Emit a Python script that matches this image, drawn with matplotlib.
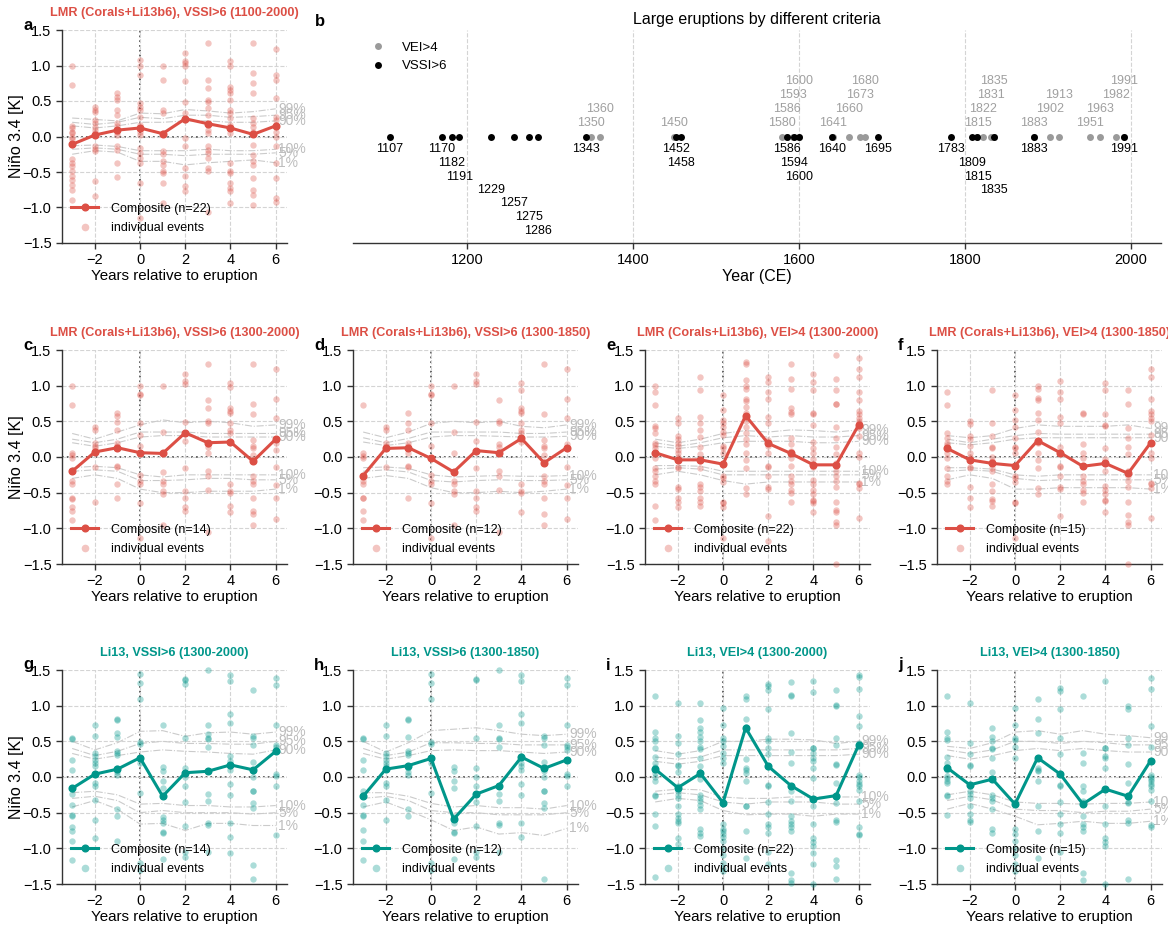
import matplotlib
matplotlib.use('Agg')
import matplotlib.pyplot as plt
from matplotlib.lines import Line2D

plt.rcParams['font.family'] = ['Liberation Sans', 'DejaVu Sans']
plt.rcParams['axes.unicode_minus'] = True

# ---------------- data ----------------
lag_years = [-3, -2, -1, 0, 1, 2, 3, 4, 5, 6]
pct_labels = ['99%', '95%', '90%', '10%', '5%', '1%']

# composites
comp_a = [-0.11, 0.02, 0.09, 0.12, 0.04, 0.25, 0.18, 0.12, 0.03, 0.15]
comp_c = [-0.20, 0.07, 0.13, 0.06, 0.05, 0.34, 0.20, 0.21, -0.06, 0.25]
comp_d = [-0.26, 0.12, 0.13, -0.02, -0.21, 0.09, 0.06, 0.26, -0.08, 0.13]
comp_e = [0.06, -0.04, -0.04, -0.10, 0.58, 0.19, 0.05, -0.11, -0.11, 0.45]
comp_f = [0.12, -0.04, -0.09, -0.12, 0.23, 0.06, -0.13, -0.09, -0.23, 0.20]
comp_g = [-0.16, 0.04, 0.11, 0.27, -0.27, 0.06, 0.08, 0.17, 0.10, 0.36]
comp_h = [-0.27, 0.11, 0.16, 0.26, -0.59, -0.24, -0.12, 0.28, 0.12, 0.24]
comp_i = [0.11, -0.15, 0.05, -0.36, 0.69, 0.15, -0.12, -0.31, -0.26, 0.45]
comp_j = [0.13, -0.11, -0.03, -0.38, 0.27, 0.04, -0.38, -0.17, -0.27, 0.23]

# percentile bands (99, 95, 90, 10, 5, 1)
pct_a = [[0.26, 0.24, 0.22, 0.33, 0.32, 0.38, 0.36, 0.33, 0.35, 0.39],
         [0.20, 0.17, 0.20, 0.27, 0.25, 0.30, 0.30, 0.27, 0.28, 0.30],
         [0.15, 0.12, 0.15, 0.20, 0.20, 0.22, 0.22, 0.20, 0.20, 0.22],
         [-0.13, -0.12, -0.14, -0.20, -0.20, -0.20, -0.18, -0.20, -0.20, -0.18],
         [-0.18, -0.16, -0.18, -0.25, -0.25, -0.27, -0.25, -0.25, -0.25, -0.23],
         [-0.25, -0.20, -0.22, -0.35, -0.35, -0.40, -0.37, -0.35, -0.33, -0.37]]
pct_c = [[0.33, 0.25, 0.35, 0.45, 0.52, 0.48, 0.50, 0.48, 0.43, 0.45],
         [0.25, 0.20, 0.25, 0.35, 0.35, 0.35, 0.33, 0.33, 0.33, 0.33],
         [0.20, 0.15, 0.20, 0.28, 0.30, 0.30, 0.28, 0.28, 0.28, 0.28],
         [-0.15, -0.13, -0.15, -0.25, -0.28, -0.25, -0.25, -0.25, -0.25, -0.25],
         [-0.20, -0.18, -0.20, -0.33, -0.33, -0.32, -0.30, -0.30, -0.32, -0.32],
         [-0.30, -0.25, -0.30, -0.45, -0.50, -0.50, -0.48, -0.48, -0.48, -0.45]]
pct_d = [[0.35, 0.27, 0.35, 0.47, 0.50, 0.48, 0.50, 0.43, 0.41, 0.45],
         [0.27, 0.20, 0.26, 0.35, 0.35, 0.35, 0.35, 0.33, 0.33, 0.35],
         [0.21, 0.16, 0.20, 0.28, 0.30, 0.30, 0.29, 0.28, 0.28, 0.29],
         [-0.15, -0.14, -0.16, -0.25, -0.28, -0.27, -0.26, -0.27, -0.27, -0.26],
         [-0.20, -0.18, -0.21, -0.33, -0.35, -0.33, -0.32, -0.33, -0.33, -0.32],
         [-0.30, -0.26, -0.30, -0.43, -0.50, -0.50, -0.48, -0.50, -0.48, -0.45]]
pct_e = [[0.25, 0.20, 0.25, 0.33, 0.37, 0.35, 0.38, 0.37, 0.35, 0.38],
         [0.20, 0.15, 0.20, 0.27, 0.30, 0.28, 0.30, 0.28, 0.28, 0.30],
         [0.15, 0.12, 0.15, 0.20, 0.22, 0.22, 0.22, 0.20, 0.20, 0.22],
         [-0.12, -0.12, -0.13, -0.20, -0.20, -0.20, -0.20, -0.20, -0.20, -0.20],
         [-0.17, -0.15, -0.17, -0.25, -0.25, -0.25, -0.25, -0.25, -0.25, -0.25],
         [-0.25, -0.20, -0.25, -0.33, -0.38, -0.35, -0.35, -0.35, -0.35, -0.35]]
pct_f = [[0.30, 0.27, 0.30, 0.40, 0.45, 0.43, 0.43, 0.43, 0.45, 0.40],
         [0.25, 0.20, 0.25, 0.30, 0.33, 0.32, 0.32, 0.32, 0.32, 0.32],
         [0.20, 0.17, 0.20, 0.25, 0.27, 0.27, 0.27, 0.27, 0.27, 0.27],
         [-0.15, -0.15, -0.17, -0.25, -0.27, -0.25, -0.25, -0.25, -0.25, -0.25],
         [-0.20, -0.18, -0.20, -0.30, -0.33, -0.32, -0.32, -0.32, -0.32, -0.32],
         [-0.32, -0.25, -0.30, -0.45, -0.45, -0.43, -0.43, -0.43, -0.43, -0.45]]
pct_g = [[0.50, 0.38, 0.48, 0.64, 0.65, 0.57, 0.62, 0.63, 0.60, 0.63],
         [0.40, 0.30, 0.36, 0.47, 0.50, 0.47, 0.47, 0.46, 0.46, 0.50],
         [0.33, 0.25, 0.30, 0.35, 0.38, 0.36, 0.35, 0.33, 0.32, 0.38],
         [-0.22, -0.20, -0.25, -0.38, -0.37, -0.40, -0.40, -0.42, -0.42, -0.40],
         [-0.30, -0.27, -0.33, -0.50, -0.47, -0.50, -0.50, -0.50, -0.52, -0.50],
         [-0.42, -0.33, -0.45, -0.66, -0.65, -0.75, -0.65, -0.65, -0.68, -0.68]]
pct_h = [[0.50, 0.35, 0.48, 0.65, 0.67, 0.69, 0.65, 0.60, 0.58, 0.60],
         [0.40, 0.30, 0.35, 0.48, 0.48, 0.47, 0.47, 0.45, 0.45, 0.45],
         [0.33, 0.25, 0.30, 0.37, 0.38, 0.37, 0.37, 0.35, 0.33, 0.35],
         [-0.22, -0.22, -0.27, -0.37, -0.42, -0.40, -0.43, -0.43, -0.45, -0.40],
         [-0.30, -0.27, -0.33, -0.47, -0.50, -0.50, -0.53, -0.53, -0.53, -0.50],
         [-0.42, -0.35, -0.47, -0.60, -0.75, -0.70, -0.80, -0.78, -0.82, -0.72]]
pct_i = [[0.37, 0.32, 0.37, 0.50, 0.50, 0.53, 0.53, 0.52, 0.47, 0.50],
         [0.28, 0.25, 0.28, 0.38, 0.38, 0.38, 0.38, 0.38, 0.38, 0.40],
         [0.22, 0.18, 0.22, 0.30, 0.30, 0.30, 0.30, 0.30, 0.30, 0.32],
         [-0.20, -0.17, -0.18, -0.28, -0.30, -0.30, -0.28, -0.28, -0.28, -0.28],
         [-0.25, -0.22, -0.25, -0.35, -0.38, -0.35, -0.35, -0.35, -0.38, -0.38],
         [-0.35, -0.30, -0.33, -0.47, -0.53, -0.52, -0.52, -0.55, -0.52, -0.52]]
pct_j = [[0.43, 0.40, 0.48, 0.63, 0.65, 0.60, 0.65, 0.60, 0.58, 0.55],
         [0.38, 0.33, 0.38, 0.50, 0.50, 0.47, 0.50, 0.48, 0.45, 0.45],
         [0.30, 0.25, 0.30, 0.37, 0.40, 0.37, 0.40, 0.37, 0.35, 0.35],
         [-0.25, -0.20, -0.25, -0.35, -0.37, -0.37, -0.38, -0.37, -0.37, -0.35],
         [-0.33, -0.27, -0.32, -0.45, -0.47, -0.47, -0.50, -0.48, -0.48, -0.45],
         [-0.45, -0.37, -0.45, -0.55, -0.67, -0.65, -0.62, -0.65, -0.65, -0.62]]

# individual events, one list per lag year (-3 ... 6)
ev_a = [[1.0, 0.73, 0.15, 0.12, 0.07, 0.05, 0.0, -0.04, -0.12, -0.32, -0.38, -0.42, -0.49, -0.56, -0.61, -0.68, -0.75, -0.89],
        [0.42, 0.38, 0.35, 0.23, 0.19, 0.14, 0.09, 0.05, -0.14, -0.18, -0.21, -0.63, -0.84],
        [0.61, 0.56, 0.52, 0.38, 0.30, 0.19, 0.15, 0.07, 0.02, -0.14, -0.19, -0.38, -0.57],
        [1.08, 0.99, 0.87, 0.47, 0.42, 0.38, 0.28, 0.16, 0.07, 0.02, -0.16, -0.23, -0.30, -0.38, -0.66, -1.15],
        [1.0, 0.80, 0.38, 0.33, 0.05, -0.21, -0.24, -0.35, -0.40, -0.49, -0.52, -0.66, -0.94],
        [1.17, 1.07, 1.03, 0.99, 0.78, 0.49, 0.33, 0.23, -0.02, -0.14, -0.45, -0.56, -0.70, -0.77],
        [1.31, 0.80, 0.68, 0.52, 0.49, 0.40, 0.30, 0.09, 0.05, -0.14, -0.19, -0.23, -0.30, -0.45, -0.48, -1.06],
        [1.06, 0.99, 0.70, 0.66, 0.61, 0.52, 0.38, 0.33, 0.26, 0.16, 0.05, -0.38, -0.49, -0.52, -0.66, -0.73, -0.77, -0.94],
        [1.31, 0.89, 0.75, 0.61, 0.26, 0.19, 0.14, 0.07, -0.12, -0.26, -0.35, -0.40, -0.59, -0.75, -0.82, -0.96],
        [1.23, 0.87, 0.80, 0.54, 0.28, 0.23, 0.16, 0.07, 0.0, -0.14, -0.38, -0.59, -0.87, -0.92]]
ev_c = [[1.0, 0.73, 0.06, 0.03, -0.02, -0.20, -0.33, -0.38, -0.57, -0.59, -0.70, -0.75, -0.89],
        [0.42, 0.38, 0.19, 0.16, 0.12, 0.07, -0.14, -0.63],
        [0.61, 0.57, 0.49, 0.38, 0.19, 0.15, -0.12, -0.14, -0.38, -0.58],
        [0.99, 0.88, 0.87, 0.47, 0.31, 0.16, 0.06, -0.25, -0.33, -0.38, -0.65, -1.14],
        [1.0, 0.35, 0.05, -0.21, -0.33, -0.38, -0.47, -0.52, -0.95],
        [1.17, 1.06, 1.03, 0.49, 0.34, 0.23, -0.15, -0.47, -0.58, -0.70, -0.75],
        [1.31, 0.80, 0.68, 0.50, 0.48, 0.18, 0.14, 0.06, -0.20, -0.26, -0.46, -1.05],
        [1.04, 0.98, 0.68, 0.65, 0.61, 0.48, 0.38, 0.33, 0.21, -0.38, -0.47, -0.50, -0.68, -0.77],
        [1.31, 0.75, 0.60, 0.24, 0.15, 0.12, 0.03, -0.27, -0.33, -0.38, -0.58, -0.75, -0.80, -0.95],
        [1.23, 0.81, 0.54, 0.25, 0.20, 0.10, -0.14, -0.39, -0.58, -0.87]]
ev_d = [[0.73, 0.06, 0.02, -0.02, -0.26, -0.33, -0.38, -0.57, -0.58, -0.75, -0.89],
        [0.42, 0.38, 0.19, 0.16, 0.12, -0.14],
        [0.61, 0.48, 0.38, 0.19, 0.15, 0.05, -0.12, -0.14, -0.58],
        [0.99, 0.88, 0.87, 0.47, 0.16, -0.25, -0.33, -0.38, -0.65, -1.14],
        [1.0, 0.35, 0.05, -0.21, -0.33, -0.38, -0.47, -0.52, -0.95],
        [1.17, 1.06, 1.03, 0.49, 0.23, 0.09, -0.15, -0.47, -0.58, -0.70, -0.75],
        [0.80, 0.50, 0.48, 0.18, 0.14, 0.06, -0.20, -0.26, -0.46, -1.05],
        [1.04, 0.94, 0.68, 0.65, 0.61, 0.48, 0.38, 0.33, 0.21, -0.38, -0.47, -0.50, -0.77],
        [1.31, 0.60, 0.24, 0.15, 0.12, 0.03, -0.27, -0.33, -0.38, -0.58, -0.80, -0.95],
        [1.23, 0.81, 0.54, 0.18, 0.13, -0.14, -0.39, -0.58, -0.87]]
ev_e = [[1.0, 0.91, 0.73, 0.44, 0.40, 0.33, 0.20, 0.17, 0.12, 0.05, -0.01, -0.15, -0.20, -0.26, -0.33, -0.38, -0.69, -0.89],
        [0.54, 0.48, 0.29, 0.25, 0.20, 0.16, 0.10, 0.05, 0.0, -0.04, -0.14, -0.15, -0.42, -0.45, -0.57, -0.63, -0.70],
        [1.12, 0.94, 0.56, 0.48, 0.38, 0.28, 0.14, 0.04, -0.04, -0.06, -0.15, -0.38, -0.42, -0.48, -0.57, -0.63, -0.69],
        [0.87, 0.66, 0.52, 0.47, 0.42, 0.35, 0.31, 0.16, 0.12, 0.06, -0.08, -0.27, -0.30, -0.35, -0.63, -0.65, -0.70, -1.14],
        [1.33, 1.30, 1.08, 1.0, 0.96, 0.82, 0.79, 0.70, 0.62, 0.57, 0.50, 0.42, 0.33, 0.25, 0.18, 0.06, -0.04, -0.16, -0.44, -0.52],
        [1.12, 1.05, 0.91, 0.81, 0.56, 0.48, 0.24, 0.15, 0.05, -0.12, -0.14, -0.27, -0.42, -0.45, -0.83, -1.18],
        [1.31, 1.10, 0.96, 0.68, 0.63, 0.60, 0.27, 0.18, 0.08, -0.02, -0.12, -0.27, -0.34, -0.38, -0.46, -0.50, -0.63],
        [1.16, 1.05, 0.94, 0.62, 0.60, 0.45, 0.21, 0.13, 0.05, -0.03, -0.14, -0.32, -0.38, -0.46, -0.52, -0.60, -0.62, -0.65, -0.77],
        [1.43, 1.10, 0.94, 0.75, 0.74, 0.42, 0.26, 0.14, 0.04, -0.08, -0.20, -0.26, -0.33, -0.42, -0.63, -0.74, -0.77, -0.91, -0.95, -1.50],
        [1.39, 1.23, 1.12, 0.91, 0.80, 0.64, 0.60, 0.55, 0.50, 0.47, 0.40, 0.30, 0.05, 0.0, -0.36, -0.38, -0.43, -0.85]]
ev_f = [[0.91, 0.73, 0.33, 0.27, 0.20, 0.17, 0.12, 0.05, -0.01, -0.15, -0.26, -0.33, -0.38],
        [0.50, 0.46, 0.29, 0.25, 0.16, 0.05, 0.0, -0.14, -0.15, -0.42, -0.57, -0.70],
        [0.94, 0.48, 0.29, 0.14, 0.12, 0.0, -0.06, -0.15, -0.20, -0.38, -0.47, -0.59, -0.62, -0.69],
        [0.87, 0.66, 0.52, 0.42, 0.27, 0.14, 0.12, 0.06, -0.27, -0.30, -0.35, -0.63, -0.65, -1.14],
        [1.0, 0.96, 0.83, 0.80, 0.62, 0.52, 0.35, 0.20, 0.06, -0.04, -0.16, -0.44, -0.52],
        [1.06, 0.91, 0.81, 0.56, 0.48, 0.14, 0.05, -0.12, -0.14, -0.27, -0.42, -0.45, -0.83],
        [0.62, 0.60, 0.18, 0.05, -0.02, -0.12, -0.27, -0.34, -0.38, -0.46, -0.50, -0.63],
        [1.04, 0.94, 0.60, 0.45, 0.44, 0.13, -0.03, -0.19, -0.40, -0.46, -0.52, -0.60, -0.62, -0.77],
        [0.94, 0.75, 0.41, 0.26, 0.14, 0.04, -0.20, -0.26, -0.33, -0.42, -0.63, -0.82, -0.91, -0.95, -1.50],
        [1.23, 1.12, 0.81, 0.64, 0.60, 0.55, 0.50, 0.31, 0.20, 0.05, -0.01, -0.36, -0.38, -0.43, -0.85]]
ev_g = [[0.54, 0.53, 0.24, 0.10, -0.17, -0.24, -0.39, -0.53, -0.55, -0.70, -0.75, -0.90, -1.16],
        [0.73, 0.58, 0.34, 0.30, 0.24, 0.20, 0.15, -0.09, -0.12, -0.32, -0.60, -0.86],
        [0.82, 0.80, 0.62, 0.56, 0.36, 0.33, 0.31, 0.12, 0.07, 0.03, -0.45, -0.55, -0.90],
        [1.45, 1.32, 1.09, 0.49, 0.46, 0.26, 0.20, -0.22, -1.20, -1.30],
        [0.73, 0.14, 0.08, -0.06, -0.16, -0.56, -0.60, -0.65, -0.77, -0.78, -1.15],
        [1.37, 1.36, 1.31, 0.55, 0.12, 0.0, -0.12, -0.35, -0.69, -1.05, -1.12],
        [1.50, 0.73, 0.60, 0.55, 0.53, 0.42, 0.08, -0.24, -0.34, -0.65, -0.67, -1.05],
        [1.43, 1.34, 0.89, 0.76, 0.30, 0.23, 0.15, 0.10, -0.10, -0.25, -0.65, -0.84, -1.07],
        [1.22, 0.58, 0.55, 0.45, 0.21, 0.08, 0.0, -0.19, -0.20, -0.37, -0.44, -1.24, -1.43],
        [1.39, 1.29, 0.73, 0.45, 0.42, 0.38, 0.04, 0.02, -0.12, -0.82]]
ev_h = [[0.54, 0.53, 0.24, 0.10, -0.19, -0.25, -0.39, -0.53, -0.55, -0.74, -0.90, -1.16],
        [0.73, 0.58, 0.34, 0.30, 0.24, 0.20, 0.15, -0.09, -0.12, -0.32, -0.60],
        [0.82, 0.80, 0.56, 0.36, 0.33, 0.31, 0.12, 0.07, 0.03, -0.45, -0.55],
        [1.45, 1.32, 1.09, 0.49, 0.46, 0.26, 0.20, -0.22, -1.20, -1.30],
        [0.14, 0.08, -0.06, -0.16, -0.56, -0.65, -0.77, -0.78, -1.15],
        [1.37, 1.36, 0.55, 0.12, 0.0, -0.12, -0.35, -0.69, -1.05, -1.12],
        [1.50, 0.73, 0.55, 0.53, 0.42, -0.24, -0.34, -0.65, -0.67, -1.05],
        [1.43, 1.34, 0.89, 0.76, 0.30, 0.20, 0.15, 0.10, -0.10, -0.25, -0.65, -0.84],
        [0.58, 0.55, 0.45, 0.21, 0.08, 0.0, -0.19, -0.20, -0.37, -0.44, -1.43],
        [1.39, 1.29, 0.73, 0.45, 0.42, 0.38, 0.04, 0.02, -0.12]]
ev_i = [[1.13, 0.63, 0.54, 0.51, 0.40, 0.28, 0.20, 0.14, 0.10, 0.05, 0.0, -0.06, -0.25, -0.26, -0.52, -0.69, -1.40],
        [1.04, 0.58, 0.48, 0.32, 0.17, 0.15, 0.07, -0.12, -0.15, -0.20, -0.25, -0.30, -0.41, -0.52, -0.57, -0.61, -0.64, -0.86, -0.94],
        [1.04, 0.80, 0.68, 0.63, 0.56, 0.50, 0.42, 0.39, 0.27, 0.15, 0.07, 0.04, -0.03, -0.25, -0.30, -0.34, -0.39, -0.45, -0.73, -0.78, -0.83],
        [0.97, 0.73, 0.55, 0.51, 0.43, 0.33, 0.26, 0.20, -0.35, -0.37, -0.66, -0.73, -0.76, -0.80, -0.84, -0.90, -1.0, -1.10, -1.20, -1.28, -1.32],
        [1.13, 1.10, 0.81, 0.70, 0.68, 0.25, 0.13, 0.10, 0.05, -0.05, -0.40, -0.41, -0.75, -1.14],
        [1.30, 1.27, 1.22, 0.95, 0.55, 0.51, 0.40, 0.32, 0.14, -0.11, -0.12, -0.35, -0.52, -0.66, -0.70, -0.79, -1.05, -1.22],
        [1.33, 1.15, 1.14, 0.61, 0.35, 0.20, -0.12, -0.20, -0.33, -0.54, -0.62, -0.66, -0.70, -0.75, -1.35, -1.45, -1.48],
        [1.34, 1.19, 0.41, 0.40, 0.33, 0.27, 0.22, 0.13, -0.02, -0.40, -0.66, -0.85, -0.91, -0.97, -1.07, -1.22, -1.50],
        [1.22, 1.01, 0.99, 0.54, 0.45, 0.18, 0.17, -0.08, -0.28, -0.37, -0.60, -0.63, -1.16, -1.25, -1.43],
        [1.43, 1.40, 1.24, 0.86, 0.72, 0.47, 0.42, 0.03, 0.0, -0.05, -0.10, -0.12, -0.18, -0.34, -0.70, -0.80, -0.82]]
ev_j = [[1.13, 0.63, 0.54, 0.52, 0.28, 0.20, 0.14, 0.10, 0.02, -0.02, -0.06, -0.09, -0.25, -0.26, -0.53],
        [1.04, 0.48, 0.32, 0.17, 0.15, -0.20, -0.24, -0.30, -0.41, -0.52, -0.60, -0.63],
        [0.68, 0.56, 0.51, 0.41, 0.39, 0.27, 0.07, -0.03, -0.25, -0.30, -0.34, -0.45, -0.73, -0.78],
        [0.97, 0.73, 0.55, 0.52, 0.42, 0.26, -0.35, -0.37, -0.73, -0.80, -0.90, -1.0, -1.10, -1.22, -1.32],
        [1.09, 0.81, 0.62, 0.13, 0.10, 0.08, -0.05, -0.40, -0.76, -1.14],
        [1.25, 1.20, 0.95, 0.55, 0.32, 0.05, -0.11, -0.12, -0.35, -0.52, -0.66, -0.79, -1.05],
        [1.14, 0.34, 0.20, -0.12, -0.20, -0.33, -0.54, -0.66, -0.70, -0.75, -1.35, -1.45],
        [1.34, 0.41, 0.40, 0.30, 0.27, 0.13, -0.40, -0.66, -0.85, -0.91, -0.97, -1.50],
        [0.99, 0.96, 0.54, 0.45, 0.18, -0.08, -0.35, -0.37, -0.60, -0.64, -1.43],
        [1.39, 1.24, 0.72, 0.42, 0.03, 0.0, -0.03, -0.06, -0.10, -0.12, -0.18, -0.34, -0.67, -0.70]]

# panel b: eruption years
vei_years = [1350, 1360, 1450, 1580, 1586, 1593, 1600, 1641, 1660, 1673, 1680,
             1815, 1822, 1831, 1835, 1883, 1902, 1913, 1951, 1963, 1982, 1991]
vssi_years = [1107, 1170, 1182, 1191, 1229, 1257, 1275, 1286, 1343, 1452, 1458,
              1586, 1594, 1600, 1640, 1695, 1783, 1809, 1815, 1835, 1883, 1991]
# label stacking levels (layout)
vei_levels = [0, 1, 0, 0, 1, 2, 3, 0, 1, 2, 3, 0, 1, 2, 3, 0, 1, 2, 0, 1, 2, 3]
vssi_levels = [0, 0, 1, 2, 3, 4, 5, 6, 0, 0, 1, 0, 1, 2, 0, 0, 0, 1, 2, 3, 0, 0]

titles = {
    'a': 'LMR (Corals+Li13b6), VSSI>6 (1100-2000)',
    'c': 'LMR (Corals+Li13b6), VSSI>6 (1300-2000)',
    'd': 'LMR (Corals+Li13b6), VSSI>6 (1300-1850)',
    'e': 'LMR (Corals+Li13b6), VEI>4 (1300-2000)',
    'f': 'LMR (Corals+Li13b6), VEI>4 (1300-1850)',
    'g': 'Li13, VSSI>6 (1300-2000)',
    'h': 'Li13, VSSI>6 (1300-1850)',
    'i': 'Li13, VEI>4 (1300-2000)',
    'j': 'Li13, VEI>4 (1300-1850)',
}
n_events = {'a': 22, 'c': 14, 'd': 12, 'e': 22, 'f': 15, 'g': 14, 'h': 12, 'i': 22, 'j': 15}

RED = '#dc4f45'
TEAL = '#00968a'

panels = {
    'a': (comp_a, ev_a, pct_a, RED),
    'c': (comp_c, ev_c, pct_c, RED),
    'd': (comp_d, ev_d, pct_d, RED),
    'e': (comp_e, ev_e, pct_e, RED),
    'f': (comp_f, ev_f, pct_f, RED),
    'g': (comp_g, ev_g, pct_g, TEAL),
    'h': (comp_h, ev_h, pct_h, TEAL),
    'i': (comp_i, ev_i, pct_i, TEAL),
    'j': (comp_j, ev_j, pct_j, TEAL),
}

# ---------------- layout ----------------
W, H = 1168, 926
fig = plt.figure(figsize=(W / 100, H / 100), dpi=100)

def rect(left, top, right, bottom):
    return [left / W, 1 - bottom / H, (right - left) / W, (bottom - top) / H]

col_left = [62, 353, 645, 937]
pw = 225
row_tb = [(30, 243), (350, 564), (670, 884)]
pos = {
    'a': (col_left[0], row_tb[0]),
    'c': (col_left[0], row_tb[1]), 'd': (col_left[1], row_tb[1]),
    'e': (col_left[2], row_tb[1]), 'f': (col_left[3], row_tb[1]),
    'g': (col_left[0], row_tb[2]), 'h': (col_left[1], row_tb[2]),
    'i': (col_left[2], row_tb[2]), 'j': (col_left[3], row_tb[2]),
}

GRID = '#d4d4d4'
SPINE = '#333333'


def style_axes(ax):
    for s in ['top', 'right']:
        ax.spines[s].set_visible(False)
    for s in ['left', 'bottom']:
        ax.spines[s].set_color(SPINE)
        ax.spines[s].set_linewidth(1.0)
    ax.tick_params(direction='out', length=4, width=1, colors=SPINE,
                   labelsize=10.5, labelcolor='black')


def draw_panel(key):
    comp, ev, pct, color = panels[key]
    left, (top, bottom) = pos[key]
    ax = fig.add_axes(rect(left, top, left + pw, bottom))
    style_axes(ax)
    ax.set_xlim(-3.45, 6.5)
    ax.set_ylim(-1.5, 1.5)
    ax.set_xticks([-2, 0, 2, 4, 6])
    ax.set_yticks([-1.5, -1.0, -0.5, 0.0, 0.5, 1.0, 1.5])
    ax.set_yticklabels(['\u22121.5', '\u22121.0', '\u22120.5', '0.0', '0.5', '1.0', '1.5'])
    ax.set_xticklabels(['\u22122', '0', '2', '4', '6'])
    ax.grid(True, color=GRID, linestyle='--', linewidth=0.8, zorder=0)
    ax.axvline(0, color='#555555', linestyle=':', linewidth=1.3, zorder=1)
    ax.axhline(0, color='#555555', linestyle=':', linewidth=1.3, zorder=1)
    # percentile lines
    for lab, vals in zip(pct_labels, pct):
        ax.plot(lag_years, vals, color='#cbcbcb', linestyle='-.', linewidth=0.8, zorder=2)
        ax.text(6.12, vals[-1], lab, color='#bdbdbd', fontsize=10,
                ha='left', va='center', clip_on=False, zorder=2)
    # individual events
    for yr, vals in zip(lag_years, ev):
        ax.plot([yr] * len(vals), vals, linestyle='none', marker='o', markersize=4.6,
                color=color, alpha=0.33, markeredgewidth=0, zorder=3, clip_on=False)
    # composite
    ax.plot(lag_years, comp, color=color, linewidth=2.2, marker='o', markersize=4.8, zorder=4)
    handles = [Line2D([], [], color=color, linewidth=2.2, marker='o', markersize=4.8),
               Line2D([], [], linestyle='none', marker='o', markersize=5.5, color=color,
                      alpha=0.33, markeredgewidth=0)]
    ax.legend(handles, ['Composite (n=%d)' % n_events[key], 'individual events'],
              loc='lower left', bbox_to_anchor=(0.0, 0.0), frameon=False, fontsize=9,
              handlelength=2.2, handletextpad=1.0, labelspacing=0.6, borderaxespad=0.3)
    ax.set_xlabel('Years relative to eruption', fontsize=10.9, labelpad=1)
    if left == col_left[0]:
        ax.set_ylabel('Niño 3.4 [K]', fontsize=11.5, labelpad=-1)
    ax.set_title(titles[key], color=color, fontsize=9.1, fontweight='bold', pad=10)
    fig.text((left - 39) / W, 1 - (top - 5) / H, key, fontsize=12, fontweight='bold',
             ha='left', va='center')
    return ax


for k in ['a', 'c', 'd', 'e', 'f', 'g', 'h', 'i', 'j']:
    draw_panel(k)

# ---------------- panel b ----------------
axb = fig.add_axes(rect(353, 30, 1161, 243))
for s in ['top', 'right', 'left']:
    axb.spines[s].set_visible(False)
axb.spines['bottom'].set_color(SPINE)
axb.spines['bottom'].set_linewidth(1.0)
axb.set_xlim(1063, 2036)
axb.set_ylim(-1, 1)
axb.set_yticks([])
axb.set_xticks([1200, 1400, 1600, 1800, 2000])
axb.tick_params(axis='x', direction='out', length=4, width=1, colors=SPINE,
                labelsize=10.5, labelcolor='black')
axb.grid(True, axis='x', color=GRID, linestyle='--', linewidth=0.8, zorder=0)
GREY = '#9a9a9a'
axb.plot(vei_years, [0] * len(vei_years), linestyle='none', marker='o', markersize=5,
         color=GREY, markeredgewidth=0, zorder=3)
axb.plot(vssi_years, [0] * len(vssi_years), linestyle='none', marker='o', markersize=5,
         color='black', markeredgewidth=0, zorder=4)
for yr, lv in zip(vei_years, vei_levels):
    axb.annotate(str(yr), (yr, 0), xytext=(0, 14 + 13.7 * lv), textcoords='offset pixels',
                 ha='center', va='center', fontsize=9, color='#a0a0a0')
for yr, lv in zip(vssi_years, vssi_levels):
    axb.annotate(str(yr), (yr, 0), xytext=(0, -(13 + 13.5 * lv)), textcoords='offset pixels',
                 ha='center', va='center', fontsize=9, color='black')
hb = [Line2D([], [], linestyle='none', marker='o', markersize=5, color=GREY, markeredgewidth=0),
      Line2D([], [], linestyle='none', marker='o', markersize=5, color='black', markeredgewidth=0)]
axb.legend(hb, ['VEI>4', 'VSSI>6'], loc='upper left', bbox_to_anchor=(0.0, 1.0),
           frameon=False, fontsize=9.5, handletextpad=0.8, labelspacing=0.45)
axb.set_xlabel('Year (CE)', fontsize=11.5, labelpad=1)
axb.set_title('Large eruptions by different criteria', fontsize=11.5, pad=4)
fig.text((353 - 38) / W, 1 - 22 / H, 'b', fontsize=12, fontweight='bold', ha='left', va='center')

fig.savefig('out.png', dpi=100)
